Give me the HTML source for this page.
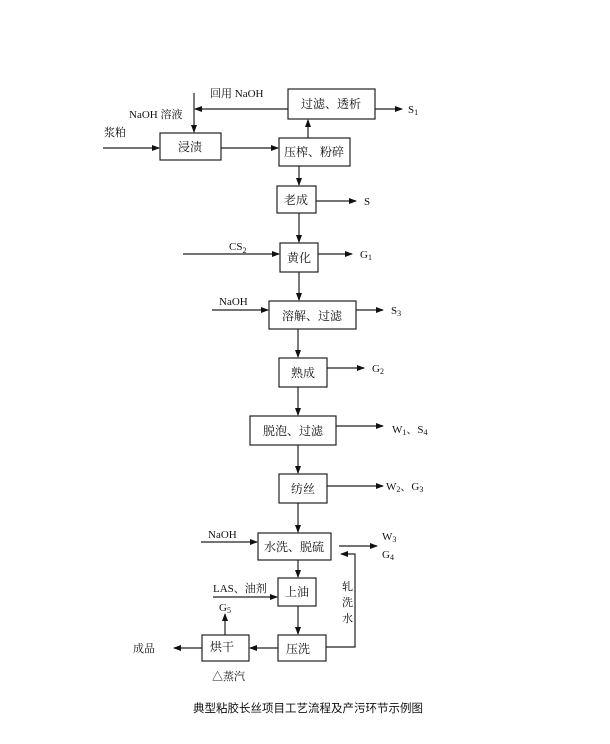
<!DOCTYPE html>
<html><head><meta charset="utf-8"><style>
body{margin:0;background:#fff}
svg{display:block}
text{font-family:"Liberation Serif","Noto Serif CJK SC","Noto Sans CJK SC",serif;font-size:11px;fill:#111}
.b{font-size:12px}
</style></head><body>
<svg width="610" height="744" viewBox="0 0 610 744">
<defs><marker id="a" markerWidth="8" markerHeight="6" refX="7" refY="3" orient="auto" markerUnits="userSpaceOnUse"><path d="M0,0L8,3L0,6z" fill="#111"/></marker></defs>
<g fill="none" stroke="#222" stroke-width="1.2">
<rect x="288" y="89" width="87" height="30"/>
<rect x="160" y="133" width="61" height="27"/>
<rect x="279" y="138" width="71" height="28"/>
<rect x="277" y="186" width="39" height="27"/>
<rect x="280" y="243" width="38" height="29"/>
<rect x="269" y="301" width="87" height="28"/>
<rect x="279" y="358" width="48" height="29"/>
<rect x="250" y="416" width="86" height="29"/>
<rect x="279" y="474" width="48" height="29"/>
<rect x="258" y="533" width="73" height="27"/>
<rect x="278" y="578" width="38" height="28"/>
<rect x="278" y="635" width="48" height="26"/>
<rect x="202" y="635" width="47" height="26"/>
</g>
<g stroke="#222" stroke-width="1.2" marker-end="url(#a)">
<line x1="194" y1="93" x2="194" y2="132"/>
<line x1="288" y1="109" x2="195" y2="109"/>
<line x1="375" y1="109" x2="402" y2="109"/>
<line x1="103" y1="148" x2="159" y2="148"/>
<line x1="221" y1="148" x2="278" y2="148"/>
<line x1="308" y1="138" x2="308" y2="120"/>
<line x1="299" y1="166" x2="299" y2="185"/>
<line x1="316" y1="201" x2="356" y2="201"/>
<line x1="299" y1="213" x2="299" y2="242"/>
<line x1="183" y1="254" x2="279" y2="254"/>
<line x1="318" y1="254" x2="352" y2="254"/>
<line x1="299" y1="272" x2="299" y2="300"/>
<line x1="212" y1="310" x2="268" y2="310"/>
<line x1="356" y1="310" x2="383" y2="310"/>
<line x1="298" y1="329" x2="298" y2="357"/>
<line x1="327" y1="368" x2="364" y2="368"/>
<line x1="298" y1="387" x2="298" y2="415"/>
<line x1="336" y1="426" x2="383" y2="426"/>
<line x1="298" y1="445" x2="298" y2="473"/>
<line x1="327" y1="486" x2="383" y2="486"/>
<line x1="298" y1="503" x2="298" y2="532"/>
<line x1="201" y1="542" x2="257" y2="542"/>
<line x1="339" y1="546" x2="377" y2="546"/>
<line x1="298" y1="560" x2="298" y2="577"/>
<line x1="213" y1="597" x2="277" y2="597"/>
<line x1="298" y1="606" x2="298" y2="634"/>
<line x1="278" y1="648" x2="250" y2="648"/>
<line x1="202" y1="648" x2="174" y2="648"/>
<line x1="225" y1="635" x2="225" y2="614"/>
</g>
<polyline points="326,647 355,647 355,554 341,554" fill="none" stroke="#222" stroke-width="1.2" marker-end="url(#a)"/>
<g class="b" text-anchor="middle">
<text class="b" x="331" y="108">过滤、透析</text>
<text class="b" x="190" y="151">浸渍</text>
<text class="b" x="314" y="156">压榨、粉碎</text>
<text class="b" x="296" y="204">老成</text>
<text class="b" x="299" y="262">黄化</text>
<text class="b" x="312" y="320">溶解、过滤</text>
<text class="b" x="303" y="377">熟成</text>
<text class="b" x="293" y="435">脱泡、过滤</text>
<text class="b" x="303" y="493">纺丝</text>
<text class="b" x="294" y="551">水洗、脱硫</text>
<text class="b" x="297" y="596">上油</text>
<text class="b" x="298" y="653">压洗</text>
<text class="b" x="222" y="651">烘干</text>
</g>
<text x="210" y="97">回用 NaOH</text>
<text x="129" y="118">NaOH 溶液</text>
<text x="104" y="136">浆粕</text>
<text x="408" y="113">S<tspan font-size="8" dy="2">1</tspan></text>
<text x="364" y="205">S</text>
<text x="229" y="250">CS<tspan font-size="8" dy="3">2</tspan></text>
<text x="360" y="258">G<tspan font-size="8" dy="2">1</tspan></text>
<text x="219" y="305">NaOH</text>
<text x="391" y="314">S<tspan font-size="8" dy="2">3</tspan></text>
<text x="372" y="372">G<tspan font-size="8" dy="2">2</tspan></text>
<text x="392" y="433">W<tspan font-size="8" dy="2">1</tspan><tspan dy="-2">、S</tspan><tspan font-size="8" dy="2">4</tspan></text>
<text x="386" y="490">W<tspan font-size="8" dy="2">2</tspan><tspan dy="-2">、G</tspan><tspan font-size="8" dy="2">3</tspan></text>
<text x="208" y="538">NaOH</text>
<text x="382" y="540">W<tspan font-size="8" dy="2">3</tspan></text>
<text x="382" y="558">G<tspan font-size="8" dy="2">4</tspan></text>
<text x="213" y="592">LAS、油剂</text>
<text x="219" y="611">G<tspan font-size="8" dy="2">5</tspan></text>
<text x="342" y="590">轧</text>
<text x="342" y="606">洗</text>
<text x="342" y="622">水</text>
<text x="133" y="652">成品</text>
<text x="212" y="680">△蒸汽</text>
<text x="193" y="712" style="font-size:11.5px;font-family:'Noto Sans CJK SC',sans-serif">典型粘胶长丝项目工艺流程及产污环节示例图</text>
</svg>
</body></html>
